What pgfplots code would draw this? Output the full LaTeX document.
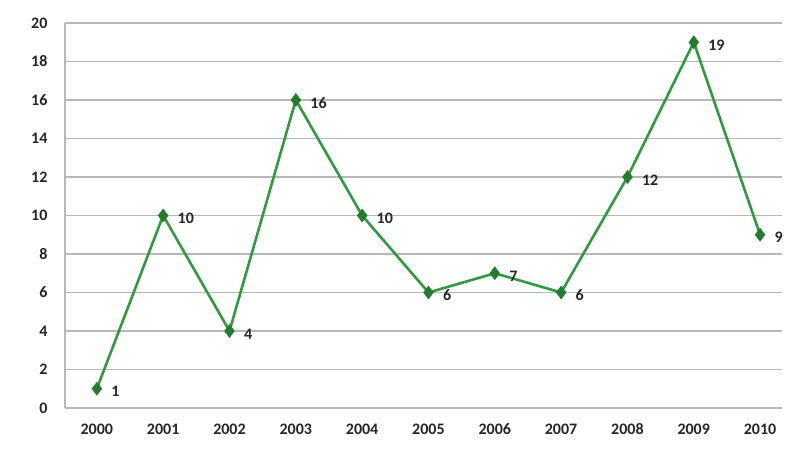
\documentclass[border=0pt]{standalone}
\usepackage{fontspec}
\setmainfont{Carlito}
\usepackage{pgfplots}
\pgfplotsset{compat=1.18}
\definecolor{LineGreen}{HTML}{2E9B3E}
\definecolor{MarkGreen}{HTML}{1F7D2C}
\definecolor{GridGray}{HTML}{B8B8B8}

\begin{document}
\begin{tikzpicture}
\useasboundingbox (-65pt,-60pt) rectangle (735pt,408pt);
\begin{axis}[
  scale only axis, width=717pt, height=385pt,
  xmin=1999.52, xmax=2010.33, ymin=0, ymax=20,
  xtick={2000,...,2010}, ytick={0,2,...,20},
  axis x line*=bottom, axis y line*=left,
  axis line style={GridGray, line width=1.6pt, -},
  major tick length=0pt,
  ymajorgrids, grid style={GridGray, line width=1.6pt},
  /pgf/number format/1000 sep={},
  /pgf/number format/assume math mode=true,
  tick label style={font=\fontsize{16}{18}\selectfont\bfseries, text=black!85},
  xticklabel style={yshift=-12pt},
  yticklabel style={xshift=-14pt},
  nodes near coords,
  every node near coord/.append style={font=\fontsize{16}{18}\selectfont\bfseries, text=black!85, anchor=west, xshift=11pt, yshift=-3pt},
]
\addplot[LineGreen, line width=2.6pt, mark=diamond*, mark size=6.5pt,
  mark options={fill=MarkGreen, draw=MarkGreen, line width=0.5pt}]
  coordinates {
  (2000,1) (2001,10) (2002,4) (2003,16) (2004,10) (2005,6)
  (2006,7) (2007,6) (2008,12) (2009,19) (2010,9)
};
\end{axis}
\end{tikzpicture}
\end{document}
